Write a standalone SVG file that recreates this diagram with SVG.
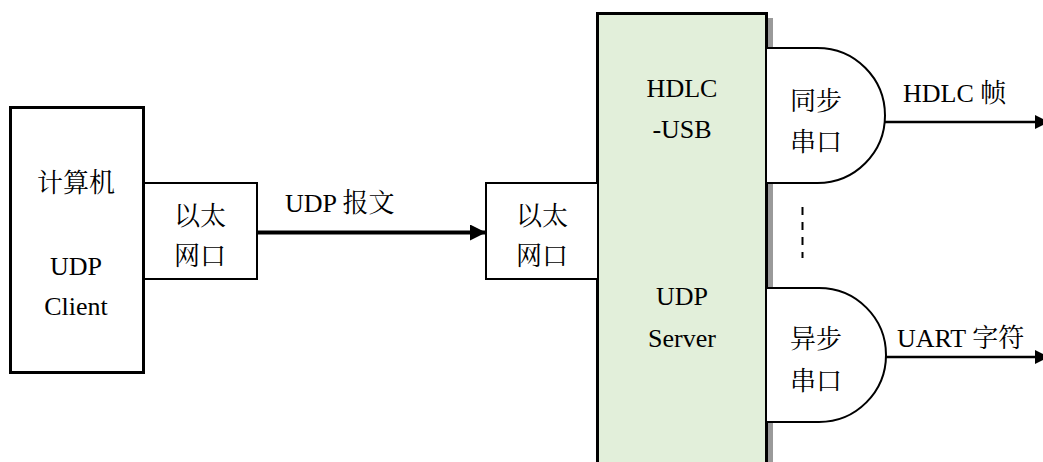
<svg xmlns="http://www.w3.org/2000/svg" width="1043" height="462" viewBox="0 0 1043 462">
  <defs>
    <style>
      .t { font-family: 'Liberation Serif', 'Times New Roman', 'Noto Serif CJK SC', 'Noto Sans CJK SC', serif; font-size: 26px; fill: #000; }
      .c { text-anchor: middle; }
      .box { fill: #fff; stroke: #000; }
      .port { fill: #fff; stroke: #000; stroke-width: 2; }
      .wire { fill: none; stroke: #000; }
    </style>
    <marker id="head" viewBox="0 0 10 10" refX="10" refY="5" markerWidth="4" markerHeight="4" markerUnits="strokeWidth" orient="auto">
      <path d="M0,0 L10,5 L0,10 Z" fill="#000"/>
    </marker>
    <marker id="headThin" viewBox="0 0 10 10" refX="10" refY="5" markerWidth="5.5" markerHeight="5.8" markerUnits="strokeWidth" orient="auto">
      <path d="M0,0 L10,5 L0,10 Z" fill="#000"/>
    </marker>
  </defs>
  <rect width="1043" height="462" fill="#fff"/>

  <!-- host computer -->
  <g id="computer">
    <rect class="box" x="10.5" y="107.5" width="133" height="265" stroke-width="3"/>
    <text class="t c" x="76" y="192">计算机</text>
    <text class="t c" x="76" y="275">UDP</text>
    <text class="t c" x="76" y="315">Client</text>
  </g>

  <g id="eth-host">
    <rect class="box" x="144" y="183" width="113" height="96" stroke-width="2"/>
    <text class="t c" x="200" y="225">以太</text>
    <text class="t c" x="200" y="265">网口</text>
  </g>

  <!-- converter unit -->
  <g id="converter">
    <rect x="768" y="18" width="5" height="444" fill="#9a9a9a"/>
    <rect x="597.5" y="13.5" width="169" height="452" fill="#e2efda" stroke="#000" stroke-width="3"/>
    <text class="t c" x="682" y="97">HDLC</text>
    <text class="t c" x="682" y="138">-USB</text>
    <text class="t c" x="682" y="305">UDP</text>
    <text class="t c" x="682" y="347">Server</text>
  </g>

  <g id="eth-unit">
    <rect class="box" x="486" y="183" width="112" height="96" stroke-width="2"/>
    <text class="t c" x="542" y="225">以太</text>
    <text class="t c" x="542" y="265">网口</text>
  </g>

  <g id="sync-port">
    <path class="port" d="M767,48 H817.5 A67.5,67.5 0 0 1 817.5,183 H767"/>
    <text class="t c" x="816" y="110">同步</text>
    <text class="t c" x="816" y="151">串口</text>
  </g>

  <g id="async-port">
    <path class="port" d="M767,288 H819 A67,67 0 0 1 819,422 H767"/>
    <text class="t c" x="816" y="348">异步</text>
    <text class="t c" x="816" y="390">串口</text>
  </g>

  <!-- links -->
  <g id="connectors">
    <line class="wire" x1="257" y1="232.5" x2="486" y2="232.5" stroke-width="4" marker-end="url(#head)"/>
    <line class="wire" x1="885" y1="122" x2="1049" y2="122" stroke-width="2.6" marker-end="url(#headThin)"/>
    <line class="wire" x1="886" y1="357" x2="1049" y2="357" stroke-width="2.6" marker-end="url(#headThin)"/>
    <line class="wire" x1="802.5" y1="207" x2="802.5" y2="258" stroke-width="2" stroke-dasharray="8,7"/>
  </g>

  <g id="labels">
    <text class="t" x="285" y="212">UDP 报文</text>
    <text class="t" x="903" y="102">HDLC 帧</text>
    <text class="t" x="897" y="347">UART 字符</text>
  </g>
</svg>
